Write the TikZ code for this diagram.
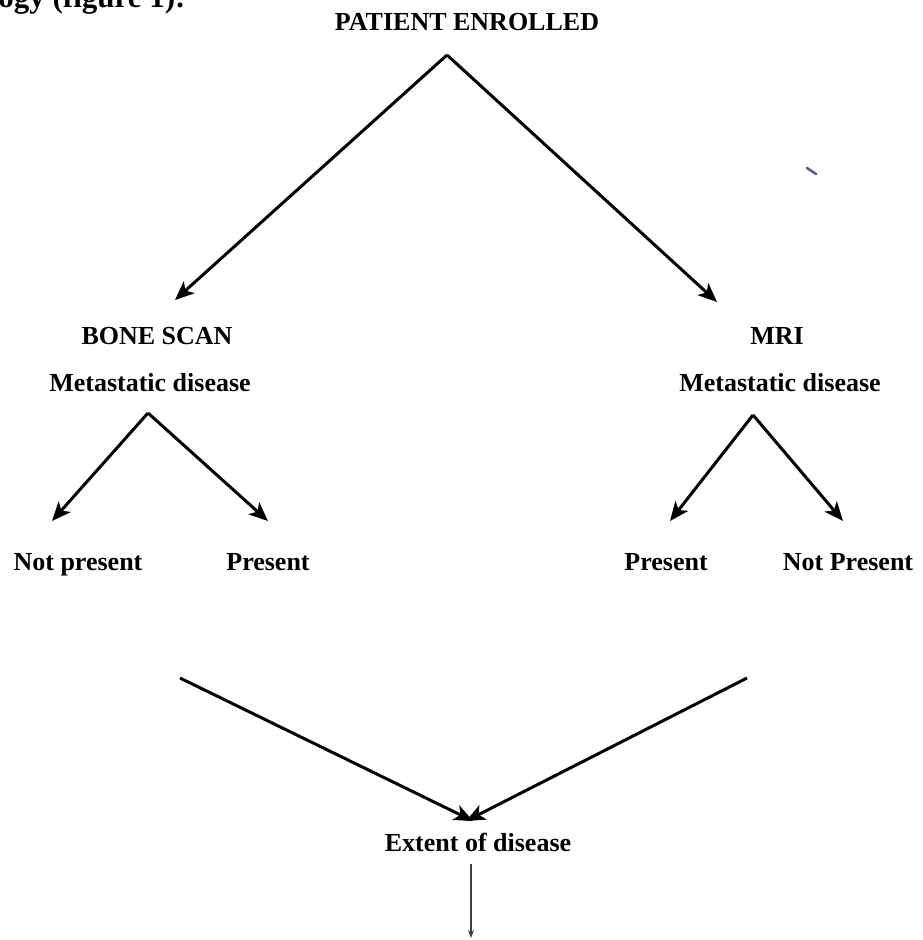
\documentclass[tikz,border=0pt]{standalone}
\usepackage{fontspec}
\setmainfont{Liberation Serif}
\usetikzlibrary{arrows.meta,positioning}

\begin{document}
\begin{tikzpicture}[
  x=0.5pt, y=-0.5pt,
  >={Stealth[length=9.5pt,width=8pt,inset=2.5pt]},
  heading/.style={
    font=\fontsize{13}{15}\selectfont\bfseries,
    text height=1.6ex,
    text depth=.4ex,
    inner sep=1pt
  },
  flow/.style={
    ->,
    line width=1.5pt
  },
  thinflow/.style={
    -{Stealth[length=4pt,width=3pt]},
    line width=0.7pt,
    draw=black!75
  }
]

  % page frame
  \useasboundingbox (0,0) rectangle (922,940);
  \clip (0,0) rectangle (922,940);

  % cut-off caption line from the page above
  \node[font=\fontsize{15.5}{18}\selectfont\bfseries, anchor=base west, inner sep=0] (caption) at (-2,8) {ogy (figure 1):};

  % Top
  \node[heading] (enrolled) at (467,25) {PATIENT ENROLLED};
  \coordinate (apex) at (447,55);

  % Two imaging arms
  \node[heading] (bone) at (157,339) {BONE SCAN};
  \node[heading] (bonemeta) at (150,386) {Metastatic disease};
  \node[heading] (mri) at (777,339) {MRI};
  \node[heading] (mrimeta) at (780,386) {Metastatic disease};

  \coordinate (boneend) at (175,300);
  \coordinate (mriend) at (717,302);
  \draw[flow] (apex) -- (boneend);
  \draw[flow] (apex) -- (mriend);

  % Outcomes
  \node[heading] (bonenot) at (78,565) {Not present};
  \node[heading] (boneyes) at (268,565) {Present};
  \node[heading] (mriyes) at (666,565) {Present};
  \node[heading] (mrinot) at (848,565) {Not Present};

  \coordinate (boneapex) at (148,413);
  \coordinate (mriapex) at (753,415);
  \draw[flow] (boneapex) -- (52,521) coordinate (bonenotend);
  \draw[flow] (boneapex) -- (268,521) coordinate (boneyesend);
  \draw[flow] (mriapex) -- (670,521) coordinate (mriyesend);
  \draw[flow] (mriapex) -- (843,521) coordinate (mrinotend);

  % Merge
  \node[heading] (extent) at (478,846) {Extent of disease};
  \coordinate (leftstart) at (180,678);
  \coordinate (rightstart) at (747,678);
  \coordinate (leftend) at (473,821);
  \coordinate (rightend) at (466,821);
  \draw[flow] (leftstart) -- (leftend);
  \draw[flow] (rightstart) -- (rightend);

  \coordinate (bottom) at (471,938);
  \draw[thinflow] (471,864) coordinate (extentout) -- (bottom);

  % stray scan mark
  \draw[blue!30!gray, line width=1.3pt, line cap=round] (807,168) -- (816,174);

\end{tikzpicture}
\end{document}
